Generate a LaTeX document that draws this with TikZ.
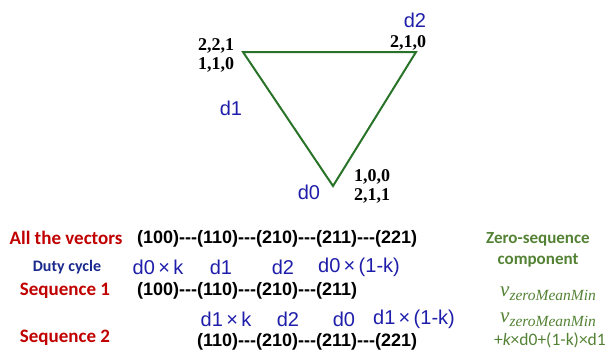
\documentclass[tikz,border=0pt]{standalone}
\usepackage{fontspec}
\setmainfont{Liberation Serif}
\setsansfont{Liberation Sans}
\newfontfamily\calibri{Carlito}
\usetikzlibrary{positioning}
\definecolor{vecred}{RGB}{192,0,0}
\definecolor{dutyblue}{RGB}{25,40,140}
\definecolor{dblue}{RGB}{30,30,170}
\definecolor{zsgreen}{RGB}{84,130,53}
\definecolor{trigreen}{RGB}{40,115,40}
\newcommand\tridash{-{}-{}-}
\newcommand\vzero{{\fontsize{21}{21}\selectfont v}\raisebox{-4.5pt}{\fontsize{15.5}{15.5}\selectfont zeroMeanMin}}

\begin{document}
\begin{tikzpicture}[x=1pt,y=-1pt,
  corner/.style={font=\fontsize{18}{19}\selectfont\rmfamily\bfseries, inner sep=0pt, align=center},
  dlab/.style={text=dblue, font=\fontsize{20}{20}\selectfont\sffamily, inner sep=0pt},
  rowname/.style={text=vecred, font=\fontsize{19}{19}\selectfont\calibri\bfseries, inner sep=0pt},
  vecrow/.style={font=\fontsize{18}{18}\selectfont\sffamily\bfseries, inner sep=0pt, anchor=west},
  zslab/.style={text=zsgreen, inner sep=0pt}]
  \useasboundingbox (0,0) rectangle (606,359);

  % switching triangle
  \coordinate (v221) at (243,52);
  \coordinate (v210) at (416,52);
  \coordinate (v100) at (333,186);
  \draw[trigreen, line width=2pt] (v221) -- (v210) -- (v100) -- cycle;
  \node[corner] (c221) at (216,55) {2,2,1\\1,1,0};
  \node[corner] (c210) at (408,43) {2,1,0};
  \node[corner] (c100) at (372,186) {1,0,0\\2,1,1};
  \node[dlab] (td2) at (415,20) {d2};
  \node[dlab] (td1) at (231,108) {d1};
  \node[dlab] (td0) at (309,192) {d0};

  % vector sequences
  \node[rowname] (allvec) at (66,238) {All the vectors};
  \node[rowname, text=dutyblue, font=\fontsize{16}{16}\selectfont\calibri\bfseries] (duty) at (67,267) {Duty cycle};
  \node[rowname] (seqone) at (65,291) {Sequence 1};
  \node[rowname] (seqtwo) at (65,338) {Sequence 2};

  \node[vecrow] (rowall) at (137,239) {(100)\tridash(110)\tridash(210)\tridash(211)\tridash(221)};
  \node[vecrow] (rowone) at (137,291) {(100)\tridash(110)\tridash(210)\tridash(211)};
  \node[vecrow] (rowtwo) at (197,342) {(110)\tridash(210)\tridash(211)\tridash(221)};

  \foreach \i/\x/\t in {1/158/d0\,×\,k, 2/221/d1, 3/283/d2, 4/359/d0\,×\,(1-k)}
    \node[dlab] (dtop\i) at (\x,267) {\t};
  \foreach \i/\x/\t in {1/226/d1\,×\,k, 2/288/d2, 3/344/d0, 4/414/d1\,×\,(1-k)}
    \node[dlab] (dbot\i) at (\x,319) {\t};

  % zero-sequence column
  \node[zslab, align=center, font=\fontsize{17}{21}\selectfont\calibri\bfseries] (zs) at (538,250) {Zero-sequence\\component};
  \node[zslab, anchor=west, font=\rmfamily\itshape] (vmin) at (500,294) {\vzero};
  \node[zslab, anchor=west, font=\rmfamily\itshape] (vmintwo) at (500,320) {\vzero};
  \node[zslab, anchor=east, font=\fontsize{17.5}{17.5}\selectfont\calibri] (vshift) at (606,340) {+{\itshape k}×d0+(1-k)×d1};
\end{tikzpicture}
\end{document}
